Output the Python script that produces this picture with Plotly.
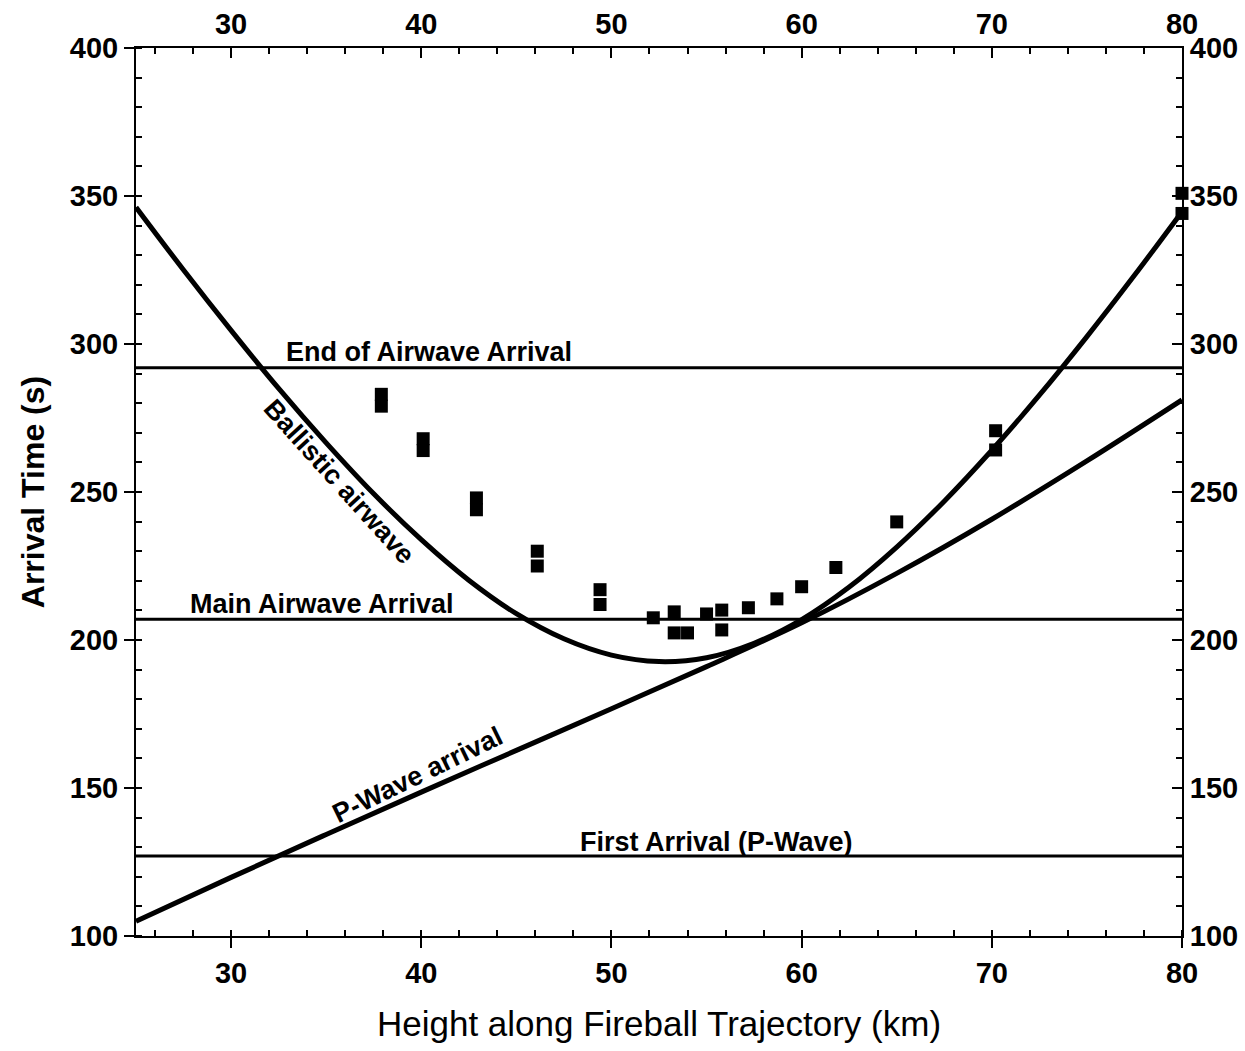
import plotly.graph_objects as go

# Observed arrival times (squares)
obs_height = [37.9, 37.9, 40.1, 40.1, 42.9, 42.9, 46.1, 46.1, 49.4, 49.4, 52.2, 53.3, 53.3,
              54.0, 55.0, 55.8, 55.8, 57.2, 58.7, 60.0, 61.8, 65.0, 70.2, 70.2, 80.0, 80.0]
obs_time = [283, 279, 268, 264, 248, 244, 230, 225, 217, 212, 207.5, 209.5, 202.4,
            202.4, 208.8, 210.1, 203.4, 210.9, 213.9, 218.0, 224.5, 239.9, 270.7, 264.2, 350.9, 344.1]

# Ballistic airwave curve (every 2.5 km)
ball_height = [25, 27.5, 30, 32.5, 35, 37.5, 40, 42.5, 45, 47.5, 50, 52.5, 55, 57.5,
               60, 62.5, 65, 67.5, 70, 72.5, 75, 77.5, 80]
ball_time = [346.2, 325.0, 304.6, 285.0, 266.6, 249.4, 233.9, 220.2, 208.9, 200.4, 194.9, 192.7, 194.0, 198.9,
             206.9, 217.9, 231.4, 246.9, 264.1, 282.7, 302.5, 323.2, 344.7]

# P-wave arrival curve (every 5 km)
pw_height = [25, 30, 35, 40, 45, 50, 55, 60, 65, 70, 75, 80]
pw_time = [105.0, 119.8, 134.3, 148.6, 162.7, 176.8, 191.0, 205.8, 222.5, 240.8, 260.5, 281.1]

# Horizontal reference levels
level_names = ["End of Airwave Arrival", "Main Airwave Arrival", "First Arrival (P-Wave)"]
level_times = [292, 207, 127]

x_ticks = [30, 40, 50, 60, 70, 80]
y_ticks = [100, 150, 200, 250, 300, 350, 400]

FONT = "Liberation Sans"
fig = go.Figure()

for t in level_times:
    fig.add_trace(go.Scatter(x=[25, 80], y=[t, t], mode="lines",
                             line=dict(color="black", width=3), showlegend=False, hoverinfo="skip"))

fig.add_trace(go.Scatter(x=pw_height, y=pw_time, mode="lines",
                         line=dict(color="black", width=5, shape="spline", smoothing=1.0),
                         showlegend=False))
fig.add_trace(go.Scatter(x=ball_height, y=ball_time, mode="lines",
                         line=dict(color="black", width=5, shape="spline", smoothing=1.0),
                         showlegend=False))
fig.add_trace(go.Scatter(x=obs_height, y=obs_time, mode="markers",
                         marker=dict(symbol="square", size=13, color="black"), showlegend=False, cliponaxis=False))
# invisible trace to activate top/right axes
fig.add_trace(go.Scatter(x=[25], y=[100], xaxis="x2", yaxis="y2", mode="markers",
                         marker=dict(opacity=0), showlegend=False, hoverinfo="skip"))

lbl_font = dict(family=FONT, size=27, color="black", weight="bold")
ann = [
    dict(x=40.4, y=297.3, text=level_names[0], textangle=0),
    dict(x=34.8, y=212.2, text=level_names[1], textangle=0),
    dict(x=55.5, y=131.8, text=level_names[2], textangle=0),
    dict(x=35.7, y=253.4, text="Ballistic airwave", textangle=48),
    dict(x=39.8, y=154.4, text="P-Wave arrival", textangle=-26),
]
for a in ann:
    fig.add_annotation(x=a["x"], y=a["y"], text=a["text"], textangle=a["textangle"],
                       showarrow=False, font=lbl_font, xref="x", yref="y")

tick_font = dict(family=FONT, size=29, color="black", weight="bold")
common_x = dict(range=[25, 80], tickvals=x_ticks, ticktext=[str(v) for v in x_ticks],
                showgrid=False, zeroline=False, showline=True, linecolor="black", linewidth=2,
                tickfont=tick_font, ticklen=10, tickwidth=1.5, tickcolor="black", automargin=False)
common_y = dict(range=[100, 400], tickvals=y_ticks, ticktext=[str(v) for v in y_ticks],
                showgrid=False, zeroline=False, showline=True, linecolor="black", linewidth=2,
                tickfont=tick_font, ticklen=10, tickwidth=1.5, tickcolor="black", automargin=False)

minor_x = dict(dtick=2, tick0=0, ticks="inside", ticklen=6, tickwidth=1.5, tickcolor="black")
minor_y = dict(dtick=10, tick0=0, ticks="inside", ticklen=6, tickwidth=1.5, tickcolor="black")

fig.update_layout(
    width=1245, height=1051,
    margin=dict(l=136, r=63, t=48, b=115),
    paper_bgcolor="white", plot_bgcolor="white",
    xaxis=dict(**common_x, side="bottom", ticks="outside", minor=minor_x,
               title=dict(text="Height along Fireball Trajectory (km)", standoff=24,
                          font=dict(family=FONT, size=35, color="black"))),
    xaxis2=dict(**common_x, side="top", overlaying="x", ticks="inside", minor=minor_x),
    yaxis=dict(**common_y, side="left", ticks="outside", minor=minor_y,
               title=dict(text="Arrival Time (s)", standoff=16,
                          font=dict(family=FONT, size=32, color="black", weight="bold"))),
    yaxis2=dict(**common_y, side="right", overlaying="y", ticks="inside", minor=minor_y),
)

fig.write_html("out.html")
